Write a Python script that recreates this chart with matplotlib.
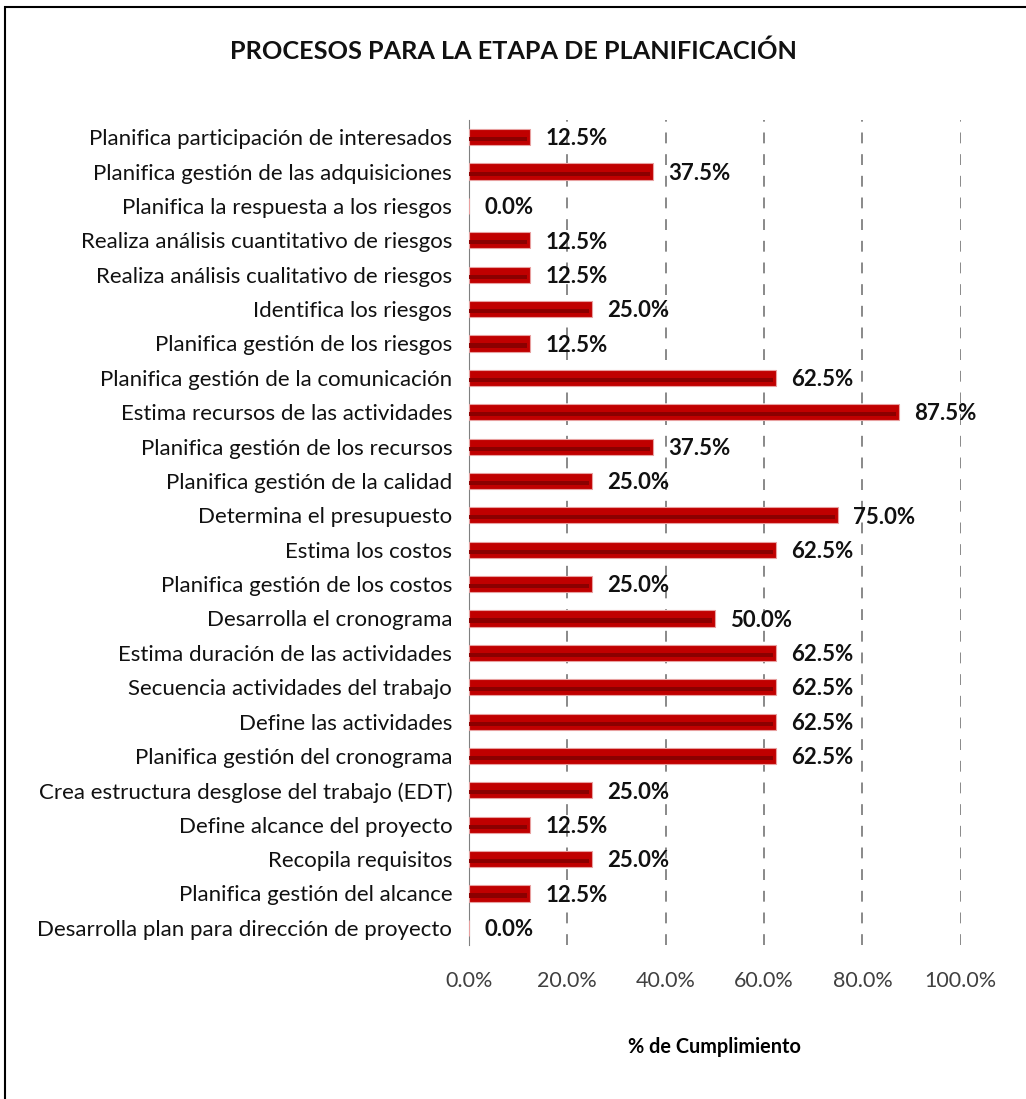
import matplotlib
matplotlib.use("Agg")
import matplotlib.pyplot as plt
from matplotlib.patches import Rectangle

plt.rcParams['font.family'] = ['Lato', 'DejaVu Sans']

procesos = [
    "Planifica participación de interesados",
    "Planifica gestión de las adquisiciones",
    "Planifica la respuesta a los riesgos",
    "Realiza análisis cuantitativo de riesgos",
    "Realiza análisis cualitativo de riesgos",
    "Identifica los riesgos",
    "Planifica gestión de los riesgos",
    "Planifica gestión de la comunicación",
    "Estima recursos de las actividades",
    "Planifica gestión de los recursos",
    "Planifica gestión de la calidad",
    "Determina el presupuesto",
    "Estima los costos",
    "Planifica gestión de los costos",
    "Desarrolla el cronograma",
    "Estima duración de las actividades",
    "Secuencia actividades del trabajo",
    "Define las actividades",
    "Planifica gestión del cronograma",
    "Crea estructura desglose del trabajo (EDT)",
    "Define alcance del proyecto",
    "Recopila requisitos",
    "Planifica gestión del alcance",
    "Desarrolla plan para dirección de proyecto",
]
cumplimiento = [12.5, 37.5, 0.0, 12.5, 12.5, 25.0, 12.5, 62.5, 87.5, 37.5, 25.0, 75.0,
                62.5, 25.0, 50.0, 62.5, 62.5, 62.5, 62.5, 25.0, 12.5, 25.0, 12.5, 0.0]
ticks = [0, 20, 40, 60, 80, 100]

fig = plt.figure(figsize=(10.26, 10.99), dpi=100)
ax = fig.add_axes([0.457, 0.1401, 0.4795, 0.7507])

y = list(range(len(procesos)))
# bar body plus a darker stripe to mimic the bevelled Excel bars
ax.barh(y, cumplimiento, height=0.47, color="#C00000", edgecolor="#E8A0A0", linewidth=0.8, zorder=3)
ax.barh([v + 0.06 for v in y], [max(c - 0.6, 0) for c in cumplimiento], height=0.12,
        color="#8B0000", linewidth=0, zorder=4)

for yi, c in zip(y, cumplimiento):
    ax.text(c + 3.1, yi + 0.05, f"{c:.1f}%", va="center", ha="left",
            fontsize=16, fontweight="bold", color="#111111", zorder=5)

ax.set_xlim(0, 100)
ax.set_ylim(len(procesos) - 0.5, -0.5)
ax.set_xticks(ticks)
ax.set_xticklabels([f"{t:.1f}%" for t in ticks], fontsize=15.5, color="#404040")
ax.set_yticks(y)
ax.set_yticklabels(procesos, fontsize=16, color="#111111")
ax.tick_params(axis="both", length=0)
ax.tick_params(axis="x", pad=19)
ax.tick_params(axis="y", pad=12)

for s in ["top", "right", "bottom"]:
    ax.spines[s].set_visible(False)
ax.spines["left"].set_color("#808080")
ax.xaxis.grid(True, color="#808080", linestyle=(0, (6, 6)), linewidth=1.3, zorder=0)

ax.set_xlabel("% de Cumplimiento", fontsize=14.3, fontweight="bold", labelpad=33)

fig.text(0.5, 0.953, "PROCESOS PARA LA ETAPA DE PLANIFICACIÓN", ha="center", va="center",
         fontsize=18.2, fontweight="bold", color="#111111")

# outer frame of the chart area
fig.patches.append(Rectangle((0.005, -0.1), 1.2, 1.094, transform=fig.transFigure,
                             fill=False, edgecolor="black", linewidth=1.5))

fig.savefig("out.png", dpi=100)
